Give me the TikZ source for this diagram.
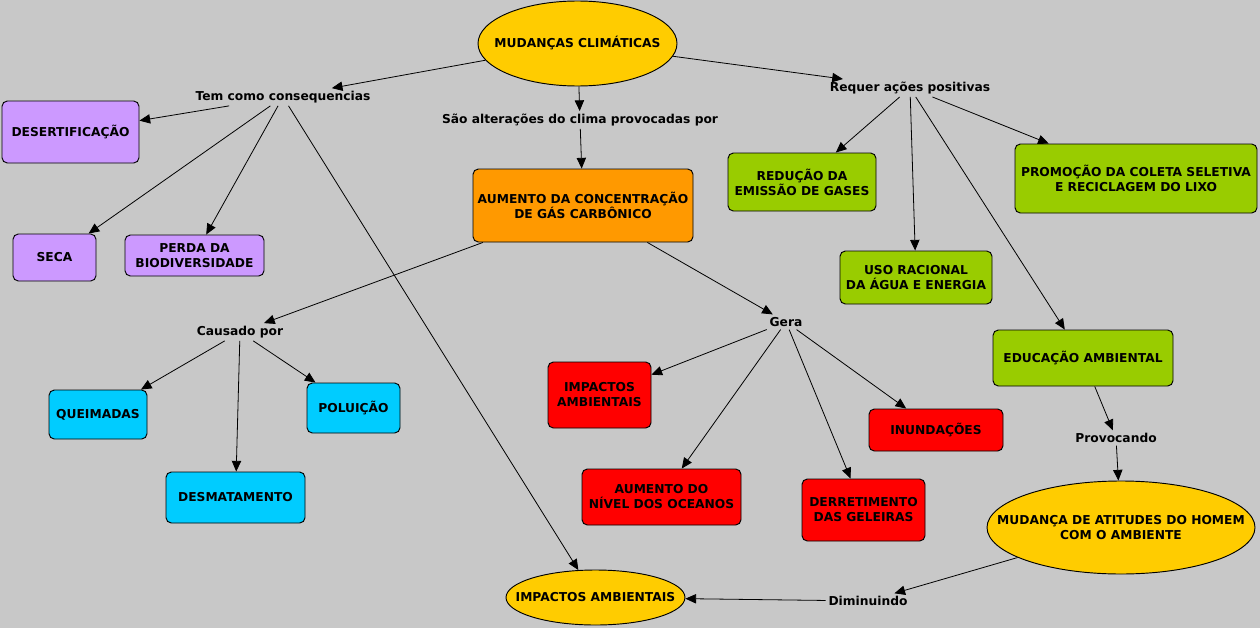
\documentclass[tikz,border=0pt]{standalone}
\usepackage{fontspec}
\setmainfont{DejaVu Sans}
\usetikzlibrary{arrows.meta,shapes.geometric}
\definecolor{bgc}{HTML}{C8C8C8}
\definecolor{yelc}{HTML}{FFCC00}
\definecolor{orac}{HTML}{FF9900}
\definecolor{purc}{HTML}{CC99FF}
\definecolor{grnc}{HTML}{99CC00}
\definecolor{cyac}{HTML}{00CCFF}
\definecolor{redc}{HTML}{FF0000}
\begin{document}
\begin{tikzpicture}[x=0.75pt,y=-0.75pt,
  every node/.style={font=\fontsize{9.2}{11.25}\selectfont\bfseries, align=center, text=black},
  concept/.style={draw=black, line width=0.7pt, rounded corners=4pt, inner sep=0pt},
  oval/.style={ellipse, draw=black, line width=0.7pt, fill=yelc, inner sep=0pt},
  linkw/.style={inner sep=2pt},
  arr/.style={draw=black, line width=0.6pt, -{Triangle[length=8pt,width=7pt]}}]
\useasboundingbox (0,0) rectangle (1260,628);
\fill[bgc] (0,0) rectangle (1260,628);

% concepts
\node[oval, minimum width=149.25pt, minimum height=63.75pt] (mud) at (577.5,43.5) {};
\node (mudt) at (mud.center) {MUDANÇAS CLIMÁTICAS};
\node[concept, fill=purc, minimum width=102.75pt, minimum height=46.5pt] (des) at (70.5,132) {DESERTIFICAÇÃO};
\node[concept, fill=purc, minimum width=62.25pt, minimum height=35.25pt] (seca) at (54.5,257.5) {SECA};
\node[concept, fill=purc, minimum width=104.25pt, minimum height=30.75pt] (perda) at (194.5,255.5) {PERDA DA\\BIODIVERSIDADE};
\node[concept, fill=orac, minimum width=165pt, minimum height=54.75pt] (aum) at (583,205.5) {AUMENTO DA CONCENTRAÇÃO\\DE GÁS CARBÔNICO};
\node[concept, fill=grnc, minimum width=111pt, minimum height=43.5pt] (red) at (802,182) {REDUÇÃO DA\\EMISSÃO DE GASES};
\node[concept, fill=grnc, minimum width=181.5pt, minimum height=51.75pt] (prom) at (1136,178.5) {PROMOÇÃO DA COLETA SELETIVA\\E RECICLAGEM DO LIXO};
\node[concept, fill=grnc, minimum width=114pt, minimum height=39.75pt] (uso) at (916,277.5) {USO RACIONAL\\DA ÁGUA E ENERGIA};
\node[concept, fill=grnc, minimum width=135pt, minimum height=42pt] (edu) at (1083,358) {EDUCAÇÃO AMBIENTAL};
\node[concept, fill=cyac, minimum width=73.5pt, minimum height=36.75pt] (queim) at (98,414.5) {QUEIMADAS};
\node[concept, fill=cyac, minimum width=69.75pt, minimum height=37.5pt] (polu) at (353.5,408) {POLUIÇÃO};
\node[concept, fill=cyac, minimum width=104.25pt, minimum height=38.25pt] (desm) at (235.5,497.5) {DESMATAMENTO};
\node[concept, fill=redc, minimum width=77.25pt, minimum height=49.5pt] (impr) at (599.5,395) {IMPACTOS\\AMBIENTAIS};
\node[concept, fill=redc, minimum width=119.25pt, minimum height=42pt] (niv) at (661.5,497) {AUMENTO DO\\NÍVEL DOS OCEANOS};
\node[concept, fill=redc, minimum width=92.25pt, minimum height=46.5pt] (derr) at (863.5,510) {DERRETIMENTO\\DAS GELEIRAS};
\node[concept, fill=redc, minimum width=100.5pt, minimum height=31.5pt] (inun) at (936,430) {INUNDAÇÕES};
\node[oval, minimum width=201pt, minimum height=69.75pt] (atit) at (1121,527.5) {};
\node (atitt) at (atit.center) {MUDANÇA DE ATITUDES DO HOMEM\\COM O AMBIENTE};
\node[oval, minimum width=134.25pt, minimum height=41.25pt] (impe) at (595.5,597.5) {};
\node (impet) at (impe.center) {IMPACTOS AMBIENTAIS};

% linking phrases
\node[linkw] (tem) at (283,97) {Tem como consequencias};
\node[linkw] (sao) at (580,120) {São alterações do clima provocadas por};
\node[linkw] (req) at (910,88) {Requer ações positivas};
\node[linkw] (caus) at (240,332) {Causado por};
\node[linkw] (gera) at (786,322) {Gera};
\node[linkw] (prov) at (1116,438) {Provocando};
\node[linkw] (dimi) at (868,601) {Diminuindo};

% connectors
\draw[arr] (mud) -- (tem);
\draw[arr] (tem) -- (des);
\draw[arr] (tem) -- (seca);
\draw[arr] (tem) -- (perda);
\draw[arr] (tem) -- (impe);
\draw[arr] (mud) -- (sao);
\draw[arr] (sao) -- (aum);
\draw[arr] (mud) -- (req);
\draw[arr] (req) -- (red);
\draw[arr] (req) -- (uso);
\draw[arr] (req) -- (prom);
\draw[arr] (req) -- (edu);
\draw[arr] (aum) -- (caus);
\draw[arr] (caus) -- (queim);
\draw[arr] (caus) -- (desm);
\draw[arr] (caus) -- (polu);
\draw[arr] (aum) -- (gera);
\draw[arr] (gera) -- (impr);
\draw[arr] (gera) -- (niv);
\draw[arr] (gera) -- (derr);
\draw[arr] (gera) -- (inun);
\draw[arr] (edu) -- (prov);
\draw[arr] (prov) -- (atit);
\draw[arr] (atit) -- (dimi);
\draw[arr] (dimi) -- (impe);
\end{tikzpicture}
\end{document}
